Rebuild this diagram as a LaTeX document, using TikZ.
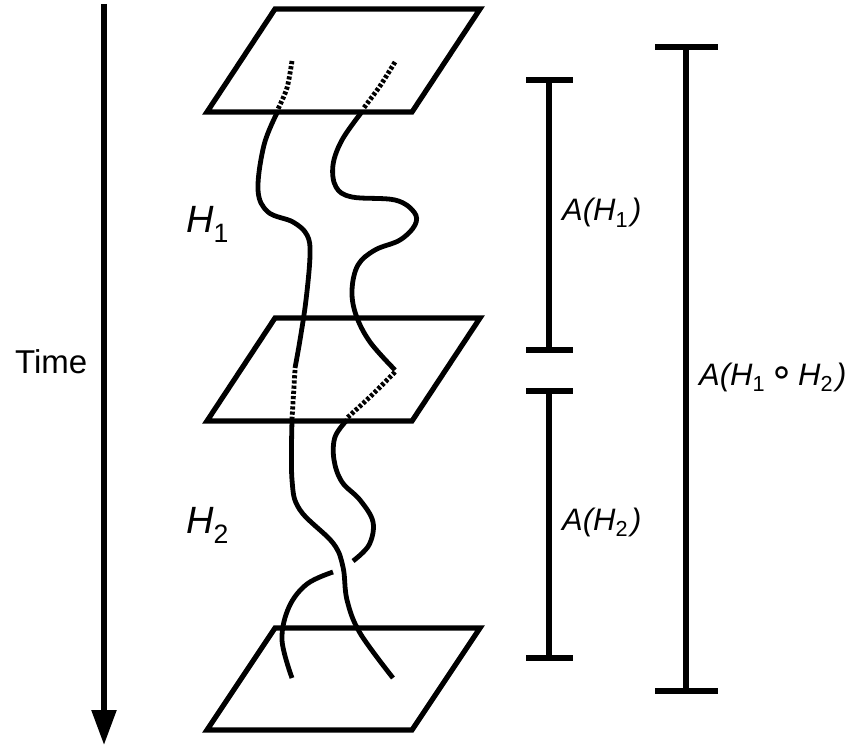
\documentclass[tikz,border=0pt]{standalone}
\usepackage{fontspec}
\setmainfont{Liberation Sans}
\newfontfamily\dejavu{DejaVu Sans}
\usetikzlibrary{arrows.meta}
\begin{document}
\begin{tikzpicture}[x=1pt,y=-1pt,
  plane/.style={line width=5.2pt, line join=miter},
  strand/.style={line width=4.8pt},
  dstrand/.style={line width=4.8pt, dash pattern=on 3.2pt off 2pt},
  bar/.style={line width=5.2pt},
  lbl/.style={font=\fontsize{31}{36}\selectfont\itshape, anchor=base west, inner sep=0pt},
  hlbl/.style={font=\fontsize{38}{44}\selectfont\itshape, anchor=base west, inner sep=0pt},
  tlbl/.style={font=\fontsize{33}{38}\selectfont, anchor=base west, inner sep=0pt}]
\useasboundingbox (0,0) rectangle (851,746);

% time arrow
\coordinate (t0) at (104,4);
\coordinate (t1) at (104,745);
\draw[line width=5.4pt, -{Triangle[width=24pt,length=35pt]}] (t0) -- (t1);
\node[tlbl] (time) at (15,373) {Time};

% planes
\draw[plane] (207,112) -- (275,9) -- (480,9) -- (412,112) -- cycle;
\draw[plane] (207,421) -- (275,318) -- (480,318) -- (412,421) -- cycle;
\draw[plane] (207,730) -- (275,628) -- (480,628) -- (412,730) -- cycle;

% strand A
\draw[dstrand] plot[smooth] coordinates {(292,61) (287,88) (278,109)};
\draw[strand] plot[smooth, tension=0.6] coordinates {(277,113) (264,145) (258,190) (268,212) (293,222) (307,235) (310,255) (306,300) (300,340) (295,368)};
\draw[dstrand] (295,370) -- (292,419);
\draw[strand] plot[smooth, tension=0.6] coordinates {(292,421) (292,480) (300,510) (333,543) (343,567) (347,600) (360,633) (393,678)};

% strand B
\draw[dstrand] plot[smooth] coordinates {(395,62) (380,86) (363,109)};
\draw[strand] plot[smooth, tension=0.6] coordinates {(361,113) (342,140) (333,165) (336,187) (352,197) (395,200) (414,212) (415,225) (400,240) (375,250) (358,265) (352,290) (356,315) (370,342) (395,370)};
\draw[dstrand] plot[smooth] coordinates {(395,372) (372,395) (347,418)};
\draw[strand] plot[smooth, tension=0.6] coordinates {(347,420) (335,437) (334,460) (342,482) (360,500) (373,522) (369,545) (353,561)};
\draw[strand] plot[smooth, tension=0.6] coordinates {(333,572) (307,584) (289,607) (282,640) (292,678)};

% labels H1 H2
\node[hlbl] (h1) at (186,233) {H\textsubscript{\upshape 1}};
\node[hlbl] (h2) at (186,533) {H\textsubscript{\upshape 2}};

% bars
\coordinate (a1t) at (549,80);  \coordinate (a1b) at (549,350);
\coordinate (a2t) at (549,391); \coordinate (a2b) at (549,658);
\coordinate (bt) at (686,47);   \coordinate (bb) at (686,691);
\draw[bar] (a1t) -- (a1b);
\draw[bar] ([xshift=-23pt]a1t) -- ([xshift=24pt]a1t);
\draw[bar] ([xshift=-23pt]a1b) -- ([xshift=24pt]a1b);
\draw[bar] (a2t) -- (a2b);
\draw[bar] ([xshift=-23pt]a2t) -- ([xshift=24pt]a2t);
\draw[bar] ([xshift=-23pt]a2b) -- ([xshift=24pt]a2b);
\draw[bar] (bt) -- (bb);
\draw[bar] ([xshift=-31pt]bt) -- ([xshift=32pt]bt);
\draw[bar] ([xshift=-31pt]bb) -- ([xshift=32pt]bb);

\node[lbl] (la1) at (562,221) {A(H\textsubscript{\upshape 1}\kern3pt)};
\node[lbl] (la2) at (562,530) {A(H\textsubscript{\upshape 2}\kern3pt)};
\node[lbl] (la12) at (699,385) {A(H\textsubscript{\upshape 1}\kern4pt{\upshape\dejavu\fontsize{40}{40}\selectfont ∘}\kern4pt H\textsubscript{\upshape 2}\kern3pt)};
\end{tikzpicture}
\end{document}
